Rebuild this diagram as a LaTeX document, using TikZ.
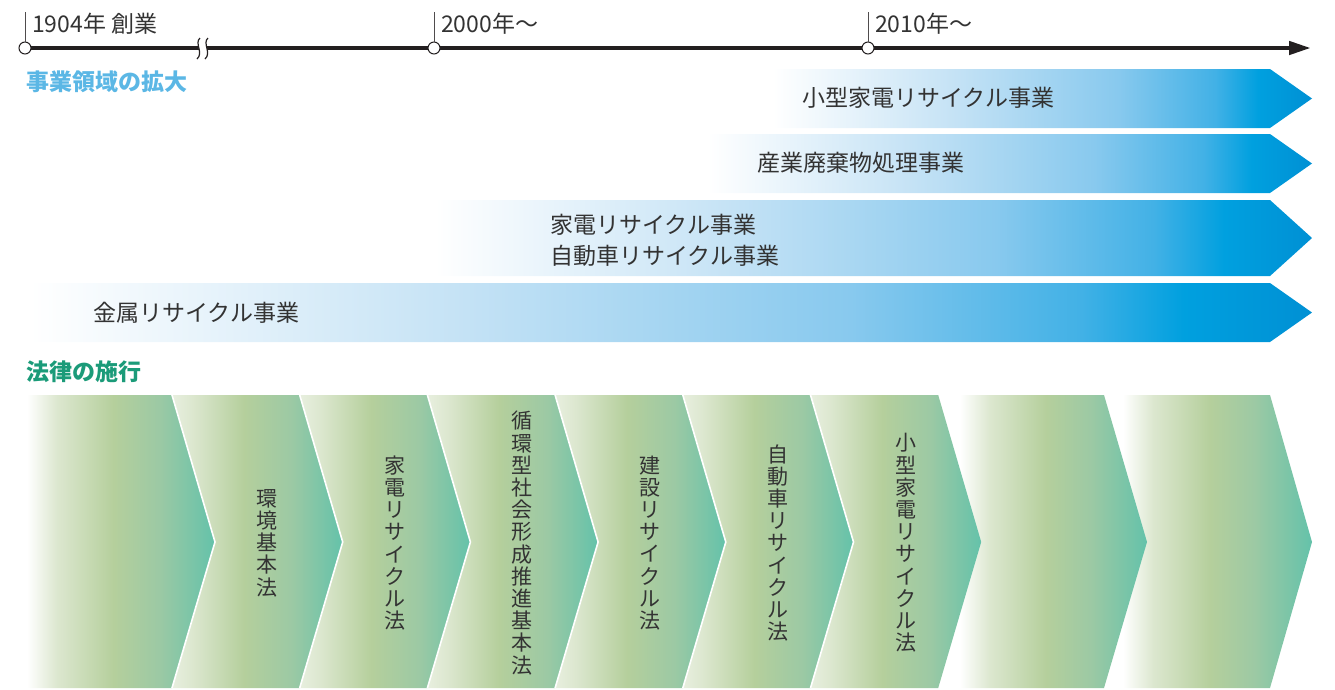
\documentclass[tikz,border=0pt]{standalone}
\usepackage{fontspec}
\setmainfont{Noto Sans CJK JP}
\usetikzlibrary{arrows.meta,positioning}

\definecolor{inkgray}{HTML}{333333}
\definecolor{lineblack}{HTML}{231F20}
\definecolor{headblue}{HTML}{5BB7E5}
\definecolor{headgreen}{HTML}{1B9B79}
\definecolor{blueA}{HTML}{C4E2F5}
\definecolor{blueB}{HTML}{88C9EE}
\definecolor{blueC}{HTML}{42B1E6}
\definecolor{blueD}{HTML}{00A0DF}
\definecolor{blueE}{HTML}{0090D4}
\definecolor{lawpale}{HTML}{E8EFDF}
\definecolor{lawA}{HTML}{DCE7CF}
\definecolor{lawB}{HTML}{B5CF9C}
\definecolor{lawC}{HTML}{9CC9A4}
\definecolor{lawD}{HTML}{64C2AA}

\pgfdeclarehorizontalshading{barblue}{100bp}{color(0bp)=(white); color(25bp)=(white);
  color(42bp)=(blueA); color(57bp)=(blueB); color(66bp)=(blueC); color(70bp)=(blueD);
  color(75bp)=(blueE); color(100bp)=(blueE)}
\pgfdeclarehorizontalshading{lawflat}{100bp}{color(0bp)=(white); color(25bp)=(white);
  color(33bp)=(lawA); color(48bp)=(lawB); color(60bp)=(lawC); color(75bp)=(lawD);
  color(100bp)=(lawD)}
\pgfdeclarehorizontalshading{lawnotch}{100bp}{color(0bp)=(lawpale); color(25bp)=(lawpale);
  color(31bp)=(lawA); color(46bp)=(lawB); color(60bp)=(lawC); color(75bp)=(lawD);
  color(100bp)=(lawD)}

\tikzset{
  timeline/.style={line width=4.5pt, lineblack, -{Triangle[length=22pt,width=13pt]}},
  yeardot/.style={circle, draw=lineblack, line width=1pt, fill=white, minimum size=12pt, inner sep=0pt},
  yeartick/.style={draw=lineblack!80, line width=1pt},
  yearlabel/.style={anchor=west, inner sep=0pt, text=inkgray, font=\fontsize{23}{27}\selectfont},
  heading/.style={anchor=west, inner sep=0pt, font=\bfseries\fontsize{23}{27}\selectfont},
  bizlabel/.style={anchor=west, inner sep=0pt, text=inkgray, align=left, font=\fontsize{23}{31}\selectfont},
  lawlabel/.style={inner sep=0pt, text=inkgray, align=center, font=\fontsize{21}{22.2}\selectfont},
  lawgap/.style={draw=white, line width=1.6pt},
}

\begin{document}
\begin{tikzpicture}[x=1pt, y=-1pt]
\useasboundingbox (0,0) rectangle (1335,689);

% time axis
\coordinate (y1904) at (25,48);
\coordinate (y2000) at (434,48);
\coordinate (y2010) at (868,48);
\coordinate (tlend) at (1311,48);
\draw[timeline] (y1904) -- (tlend);
\fill[white] (200,38) .. controls (194,43) and (204,53) .. (197,59) -- (205,59)
  .. controls (212,53) and (202,43) .. (208,38) -- cycle;
\draw[lineblack, line width=1.2pt] (200,38) .. controls (194,43) and (204,53) .. (197,59);
\draw[lineblack, line width=1.2pt] (208,38) .. controls (202,43) and (212,53) .. (205,59);
\node[yeardot] (t1904) at (y1904) {};
\node[yeardot] (t2000) at (y2000) {};
\node[yeardot] (t2010) at (y2010) {};
\foreach \t in {t1904,t2000,t2010}
  \draw[yeartick] (\t.north) -- ++(0,-30);
\node[yearlabel] (l1904) at (32,24) {1904年 創業};
\node[yearlabel] (l2000) at (441,24) {2000年～};
\node[yearlabel] (l2010) at (875,24) {2010年～};

% business fields
\node[heading, headblue] (headbiz) at (26,82) {事業領域の拡大};
\foreach \xl/\yt/\yb in {773/69/128, 708/134/193, 435/200/276, 30/283/342}
  \shade[shading=barblue] (\xl,\yt) -- (1270,\yt) -- (1312,{(\yt+\yb)/2}) -- (1270,\yb) -- (\xl,\yb) -- cycle;
\node[bizlabel] (biz1) at (802,98) {小型家電リサイクル事業};
\node[bizlabel] (biz2) at (757,163) {産業廃棄物処理事業};
\node[bizlabel] (biz3) at (550,240) {家電リサイクル事業\\自動車リサイクル事業};
\node[bizlabel] (biz4) at (93,313) {金属リサイクル事業};

% laws
\node[heading, headgreen] (headlaw) at (26,372) {法律の施行};
\shade[shading=lawflat] (1123,395) -- (1270,395) -- (1312,542) -- (1270,688) -- (1123,688) -- cycle;
\shade[shading=lawflat] (960,395) -- (1104,395) -- (1147,542) -- (1104,688) -- (960,688) -- cycle;
\def\pitch{127.7}
\foreach \i in {6,...,1}{
  \pgfmathsetmacro\xl{172+\pitch*(\i-1)}
  \pgfmathsetmacro\xr{\xl+\pitch}
  \shade[shading=lawnotch] (\xl,395) -- (\xr,395) -- (\xr+43,542) -- (\xr,688) -- (\xl,688) -- (\xl+43,542) -- cycle;
}
\shade[shading=lawflat] (27,395) -- (172,395) -- (215,542) -- (172,688) -- (27,688) -- cycle;
\foreach \i in {1,...,6}{
  \pgfmathsetmacro\xl{172+\pitch*(\i-1)}
  \draw[lawgap] (\xl,395) -- (\xl+43,542) -- (\xl,688);
}
\foreach \i/\txt in {1/{環\\境\\基\\本\\法},
                     2/{家\\電\\リ\\サ\\イ\\ク\\ル\\法},
                     3/{循\\環\\型\\社\\会\\形\\成\\推\\進\\基\\本\\法},
                     4/{建\\設\\リ\\サ\\イ\\ク\\ル\\法},
                     5/{自\\動\\車\\リ\\サ\\イ\\ク\\ル\\法},
                     6/{小\\型\\家\\電\\リ\\サ\\イ\\ク\\ル\\法}}{
  \pgfmathsetmacro\xc{172+\pitch*(\i-1)+95}
  \node[lawlabel] (law\i) at (\xc,543) {\txt};
}
\end{tikzpicture}
\end{document}
